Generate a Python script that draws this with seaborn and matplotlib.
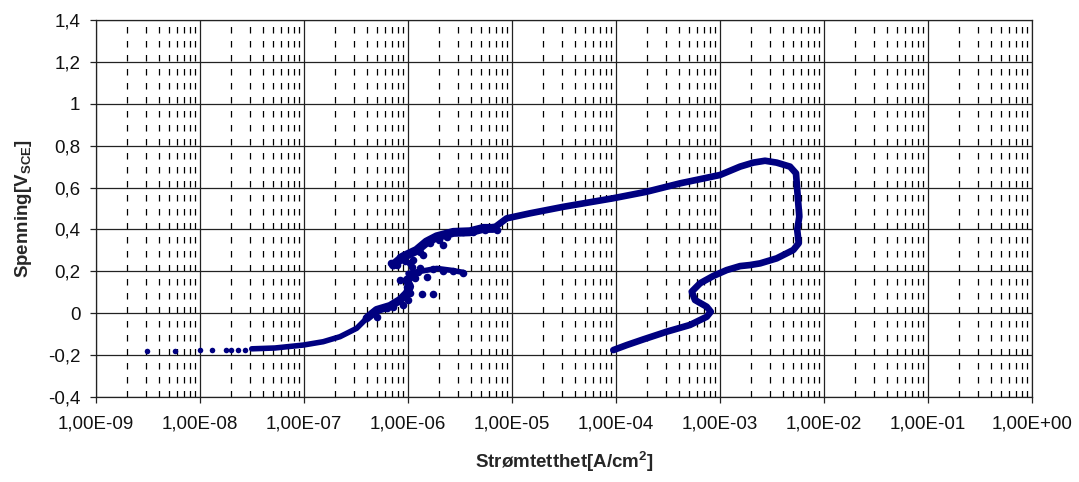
import numpy as np
import pandas as pd
import matplotlib
matplotlib.use("Agg")
import matplotlib.pyplot as plt
from matplotlib.ticker import LogLocator, FixedLocator, FixedFormatter, NullFormatter
import seaborn as sns

# --- measured polarisation data (current density in A/cm2, potential in V vs SCE) ---
# sparse cathodic points at the start of the sweep
tail_i = [3.11e-9, 5.75e-9, 1.0e-8, 1.29e-8, 1.78e-8, 1.97e-8, 2.30e-8, 2.71e-8]
tail_e = [-0.18, -0.18, -0.176, -0.176, -0.176, -0.176, -0.176, -0.174]

# dense sweep up to the unstable region around 1e-6 A/cm2
low_i = [3.14e-8, 5.26e-8, 9.84e-8, 1.53e-7, 2.22e-7, 3.21e-7, 4.01e-7, 5.00e-7,
         6.71e-7, 8.38e-7, 9.72e-7, 1.045e-6, 9.72e-7, 1.12e-6]
low_e = [-0.170, -0.166, -0.152, -0.136, -0.112, -0.072, -0.024, 0.015,
         0.034, 0.063, 0.095, 0.127, 0.158, 0.182]

# short excursion near 0.2 V
spike_i = [1.0e-6, 1.5e-6, 1.89e-6, 2.6e-6, 3.4e-6]
spike_e = [0.190, 0.205, 0.214, 0.205, 0.195]

# forward sweep through passive range, reversal and return sweep
main_i = [7.23e-7, 9.02e-7, 1.21e-6, 1.51e-6, 1.89e-6, 2.73e-6, 3.94e-6, 5.30e-6,
          6.61e-6, 8.89e-6, 1.49e-5, 3.11e-5, 9.42e-5, 1.97e-4, 4.12e-4, 1.0e-3,
          1.56e-3, 2.09e-3, 2.71e-3, 3.51e-3, 4.71e-3, 5.38e-3, 5.53e-3, 5.79e-3,
          5.53e-3, 5.71e-3, 5.07e-3, 3.51e-3, 2.43e-3, 1.94e-3, 1.56e-3, 1.16e-3,
          8.63e-4, 6.43e-4, 5.35e-4, 5.75e-4, 7.45e-4, 8.15e-4, 7.45e-4, 5.15e-4,
          3.08e-4, 1.83e-4, 1.27e-4, 9.42e-5]
main_e = [0.230, 0.270, 0.300, 0.340, 0.365, 0.386, 0.389, 0.405,
          0.405, 0.453, 0.477, 0.508, 0.549, 0.580, 0.620, 0.660,
          0.700, 0.719, 0.728, 0.719, 0.700, 0.668, 0.588, 0.461,
          0.397, 0.334, 0.302, 0.262, 0.238, 0.230, 0.225, 0.206,
          0.178, 0.143, 0.103, 0.063, 0.031, 0.007, -0.017, -0.056,
          -0.088, -0.125, -0.152, -0.176]

# scattered readings in the noisy region around 1e-6 A/cm2
noise_i = [7.78e-7, 8.38e-7, 1.12e-6, 1.30e-6, 1.30e-6, 1.63e-6, 2.18e-6, 2.35e-6,
           3.40e-6, 4.25e-6, 5.50e-6, 6.61e-6, 7.13e-6, 1.75e-6, 2.18e-6, 2.73e-6,
           3.40e-6, 1.51e-6, 1.17e-6, 8.38e-7, 9.72e-7, 1.007e-6, 9.02e-7, 1.045e-6,
           4.48e-7, 5.00e-7, 6.24e-7, 7.23e-7, 1.05e-6, 1.40e-6, 1.10e-6, 2.00e-6,
           6.80e-7, 9.30e-7, 1.25e-6]
noise_e = [0.230, 0.270, 0.254, 0.214, 0.294, 0.334, 0.326, 0.365,
           0.389, 0.389, 0.397, 0.413, 0.397, 0.210, 0.203, 0.203,
           0.193, 0.174, 0.167, 0.158, 0.127, 0.063, 0.039, 0.095,
           0.000, -0.017, 0.023, 0.031, 0.240, 0.280, 0.220, 0.350,
           0.240, 0.250, 0.195]

# two isolated readings just below 0.1 V
iso_i = [1.36e-6, 1.75e-6]
iso_e = [0.092, 0.092]

x_decades = [1e-9, 1e-8, 1e-7, 1e-6, 1e-5, 1e-4, 1e-3, 1e-2, 1e-1, 1e0]
x_labels = ["1,00E-09", "1,00E-08", "1,00E-07", "1,00E-06", "1,00E-05",
            "1,00E-04", "1,00E-03", "1,00E-02", "1,00E-01", "1,00E+00"]
y_values = [-0.4, -0.2, 0.0, 0.2, 0.4, 0.6, 0.8, 1.0, 1.2, 1.4]
y_labels = ["-0,4", "-0,2", "0", "0,2", "0,4", "0,6", "0,8", "1", "1,2", "1,4"]

sns.set_style("white")
plt.rcParams["font.family"] = ["Liberation Sans", "DejaVu Sans"]
plt.rcParams["mathtext.fontset"] = "custom"
plt.rcParams["mathtext.rm"] = "Liberation Sans"
plt.rcParams["mathtext.bf"] = "Liberation Sans:bold"

navy = "#000080"

fig = plt.figure(figsize=(10.79, 4.82), dpi=100)
ax = fig.add_axes([96 / 1079, 1 - 397 / 482, 936 / 1079, 377 / 482])
ax.set_xscale("log")

def path(xs, ys, lw):
    df = pd.DataFrame({"i": xs, "e": ys})
    sns.lineplot(data=df, x="i", y="e", sort=False, estimator=None, color=navy,
                 lw=lw, solid_capstyle="round", solid_joinstyle="round", ax=ax,
                 zorder=5)

path(low_i, low_e, 4.0)
path(low_i[6:], low_e[6:], 6.0)
path(spike_i, spike_e, 4.0)
path(main_i, main_e, 4.8)
path(main_i[:9], main_e[:9], 6.5)

dots = pd.DataFrame({"i": tail_i, "e": tail_e})
sns.scatterplot(data=dots, x="i", y="e", color=navy, s=16, linewidth=0,
                ax=ax, zorder=6)
blobs = pd.DataFrame({"i": noise_i + iso_i, "e": noise_e + iso_e})
sns.scatterplot(data=blobs, x="i", y="e", color=navy, s=30, linewidth=0,
                ax=ax, zorder=6)

ax.set_xlim(1e-9, 1e0)
ax.set_ylim(-0.4, 1.4)

ax.xaxis.set_major_locator(FixedLocator(x_decades))
ax.xaxis.set_major_formatter(FixedFormatter(x_labels))
ax.xaxis.set_minor_locator(LogLocator(base=10, subs=np.arange(2, 10), numticks=100))
ax.xaxis.set_minor_formatter(NullFormatter())
ax.yaxis.set_major_locator(FixedLocator(y_values))
ax.yaxis.set_major_formatter(FixedFormatter(y_labels))

ax.grid(which="major", axis="both", color="#222222", lw=0.9, ls="-")
ax.grid(which="minor", axis="x", color="black", lw=0.9, ls=(0, (5.2, 6.0)))
ax.set_axisbelow(True)

for sp in ax.spines.values():
    sp.set_visible(True)
    sp.set_color("#222222")
    sp.set_linewidth(0.9)

ax.tick_params(axis="both", which="major", direction="out", length=4.3, width=0.9,
               color="#222222", labelsize=13.5, pad=7, colors="#111111")
ax.tick_params(axis="x", which="major", pad=9)
ax.tick_params(axis="x", which="minor", length=0)
ax.tick_params(bottom=True, left=True)

ax.set_xlabel(r"Strømtetthet[A/cm$^{\mathbf{2}}$]", fontsize=13.5, fontweight="bold",
              labelpad=12)
ax.set_ylabel(r"Spenning[V$_{\mathbf{SCE}}$]", fontsize=13.5, fontweight="bold",
              labelpad=10)

fig.savefig("out.png", dpi=100)
